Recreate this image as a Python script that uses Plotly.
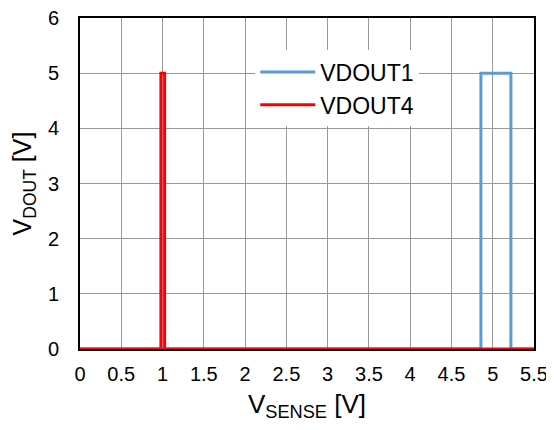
import plotly.graph_objects as go

# Data
vdout1_x = [0, 4.857, 4.857, 5.22, 5.22, 5.5]
vdout1_y = [0, 0, 5, 5, 0, 0]
vdout4_x = [0, 0.98, 0.98, 1.025, 1.025, 5.5]
vdout4_y = [0, 0, 5, 5, 0, 0]

x_ticks = [0, 0.5, 1, 1.5, 2, 2.5, 3, 3.5, 4, 4.5, 5, 5.5]
x_tick_labels = ["0", "0.5", "1", "1.5", "2", "2.5", "3", "3.5", "4", "4.5", "5", "5.5"]
y_ticks = [0, 1, 2, 3, 4, 5, 6]

FONT = "Liberation Sans, Arial, sans-serif"

fig = go.Figure()
fig.add_trace(go.Scatter(x=vdout1_x, y=vdout1_y, mode="lines", name="VDOUT1",
                         line=dict(color="#5B9BD5", width=3), legendgroup="a",
                         cliponaxis=False))
fig.add_trace(go.Scatter(x=vdout4_x, y=vdout4_y, mode="lines", name="VDOUT4",
                         line=dict(color="#FF0000", width=3), legendgroup="b",
                         cliponaxis=False))

fig.update_layout(
    width=546, height=414,
    margin=dict(l=72, r=20, t=10, b=73, autoexpand=False),
    paper_bgcolor="white", plot_bgcolor="white",
    font=dict(family=FONT, color="black", size=20),
    showlegend=True,
    legend=dict(x=0.386, y=0.902, xanchor="left", yanchor="top",
                bgcolor="white", font=dict(size=23), tracegroupgap=0,
                itemwidth=55),
    xaxis=dict(range=[0, 5.5], tickvals=x_ticks, ticktext=x_tick_labels,
               showgrid=True, gridcolor="#999999", gridwidth=1,
               showline=True, mirror=True, linecolor="black", linewidth=2,
               ticks="", ticklabelstandoff=6, zeroline=False, layer="below traces",
               automargin=False, ticklabeloverflow="allow",
               title=dict(text="V<sub>SENSE</sub> [V]", font=dict(size=26), standoff=19)),
    yaxis=dict(range=[0, 6], tickvals=y_ticks,
               showgrid=True, gridcolor="#999999", gridwidth=1,
               showline=True, mirror=True, linecolor="black", linewidth=2,
               ticks="", ticklabelstandoff=15, zeroline=False, layer="below traces",
               automargin=False, ticklabeloverflow="allow",
               title=dict(text="V<sub>DOUT</sub> [V]", font=dict(size=25), standoff=12)),
)

fig.write_html("out.html")
